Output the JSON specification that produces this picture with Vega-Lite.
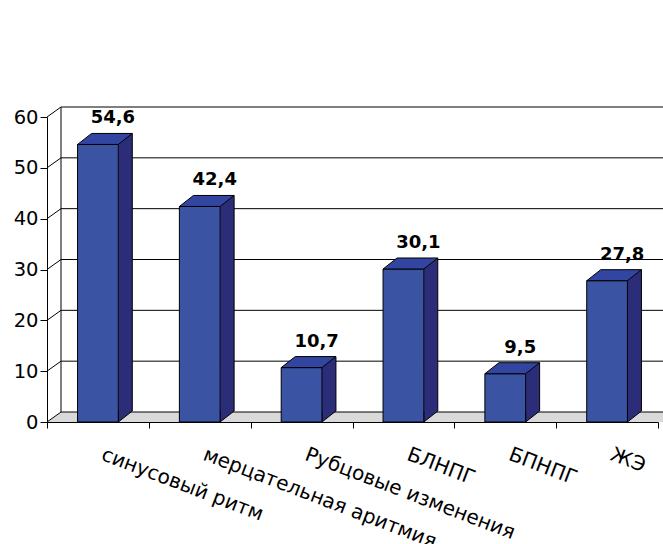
{
  "$schema": "https://vega.github.io/schema/vega-lite/v6.json",
  "width": 611,
  "height": 305,
  "autosize": {"type": "none"},
  "padding": {"left": 47, "top": 117, "right": 5, "bottom": 122},
  "config": {
    "font": "DejaVu Sans",
    "view": {"stroke": null},
    "locale": {
      "number": {"decimal": ",", "thousands": " ", "grouping": [3], "currency": ["", " ₽"]}
    }
  },
  "datasets": {
    "rows": [
      {"cat": "синусовый ритм", "v": 54.6},
      {"cat": "мерцательная аритмия", "v": 42.4},
      {"cat": "Рубцовые изменения", "v": 10.7},
      {"cat": "БЛНПГ", "v": 30.1},
      {"cat": "БПНПГ", "v": 9.5},
      {"cat": "ЖЭ", "v": 27.8}
    ],
    "grid": [
      {"t": 0}, {"t": 10}, {"t": 20}, {"t": 30}, {"t": 40}, {"t": 50}, {"t": 60}
    ],
    "one": [{}]
  },
  "resolve": {"scale": {"x": "independent"}},
  "layer": [
    {
      "layer": [
        {
          "data": {"name": "one"},
          "mark": {"type": "rect", "fill": "#d9d9d9", "xOffset": 14, "x2Offset": 14, "y2Offset": -10},
          "encoding": {
            "x": {
              "datum": 0, "type": "quantitative",
              "scale": {"domain": [0, 6], "nice": false},
              "axis": {
                "orient": "bottom", "values": [0, 1, 2, 3, 4, 5, 6], "labels": false,
                "domain": false, "grid": false, "ticks": true, "tickSize": 6,
                "tickColor": "#000", "tickWidth": 1, "title": null
              }
            },
            "x2": {"datum": 6},
            "y": {"datum": 0, "type": "quantitative", "scale": {"domain": [0, 60], "nice": false}},
            "y2": {"datum": 0}
          }
        },
        {
          "data": {"name": "one"},
          "mark": {"type": "point", "shape": "M0,0 L14,-10 L14,0 Z", "size": 4, "filled": true, "fill": "#d9d9d9", "opacity": 1, "strokeWidth": 0},
          "encoding": {
            "x": {"datum": 0, "type": "quantitative"},
            "y": {"datum": 0, "type": "quantitative"}
          }
        },
        {
          "data": {"name": "grid"},
          "mark": {"type": "rule", "color": "#000", "strokeWidth": 1, "xOffset": 14, "x2Offset": 14, "yOffset": -10},
          "encoding": {
            "x": {"datum": 0, "type": "quantitative"},
            "x2": {"datum": 6},
            "y": {"field": "t", "type": "quantitative"}
          }
        },
        {
          "data": {"name": "grid"},
          "mark": {"type": "rule", "color": "#000", "strokeWidth": 1, "x2Offset": 14, "y2Offset": -10},
          "encoding": {
            "x": {"datum": 0, "type": "quantitative"},
            "x2": {"datum": 0},
            "y": {"field": "t", "type": "quantitative"},
            "y2": {"field": "t"}
          }
        },
        {
          "data": {"name": "one"},
          "mark": {"type": "rule", "color": "#000", "strokeWidth": 1, "xOffset": 14, "yOffset": -10, "y2Offset": -10},
          "encoding": {
            "x": {"datum": 0, "type": "quantitative"},
            "y": {"datum": 0, "type": "quantitative"},
            "y2": {"datum": 60}
          }
        }
      ]
    },
    {
      "data": {"name": "rows"},
      "layer": [
        {
          "mark": {"type": "rule", "color": "#2b2d78", "strokeWidth": 14, "strokeCap": "butt", "xOffset": 7, "yOffset": -11, "y2Offset": -11},
          "encoding": {
            "x": {"field": "cat", "type": "nominal", "sort": null, "bandPosition": 1},
            "y": {"field": "v", "type": "quantitative"},
            "y2": {"datum": 0}
          }
        },
        {
          "mark": {"type": "point", "shape": "M14,-11 L0,0 L0,-11", "size": 4, "filled": true, "fill": "#2b2d78", "stroke": "#000", "strokeWidth": 1, "opacity": 1},
          "encoding": {
            "x": {"field": "cat", "type": "nominal", "sort": null, "bandPosition": 1},
            "y": {"datum": 0, "type": "quantitative"}
          }
        },
        {
          "mark": {"type": "rule", "color": "#000", "strokeWidth": 1, "xOffset": 14, "yOffset": -11, "y2Offset": -11},
          "encoding": {
            "x": {"field": "cat", "type": "nominal", "sort": null, "bandPosition": 1},
            "y": {"field": "v", "type": "quantitative"},
            "y2": {"datum": 0}
          }
        },
        {
          "mark": {"type": "bar", "fill": "#3a53a3", "stroke": "#000", "strokeWidth": 1},
          "encoding": {
            "x": {
              "field": "cat", "type": "nominal", "sort": null,
              "scale": {"type": "band", "paddingInner": 0.6, "paddingOuter": 0.3},
              "axis": {
                "orient": "bottom", "title": null, "domain": true, "domainColor": "#000", "domainWidth": 1,
                "ticks": false, "grid": false,
                "labelAngle": 21, "labelAlign": "left", "labelBaseline": "top",
                "labelOffset": 8, "labelPadding": 22, "labelFontSize": 20, "labelColor": "#000",
                "labelLimit": 0, "labelOverlap": false
              }
            },
            "y": {
              "field": "v", "type": "quantitative",
              "scale": {"domain": [0, 60], "nice": false},
              "axis": {
                "title": null, "grid": false, "values": [0, 10, 20, 30, 40, 50, 60],
                "domainColor": "#000", "domainWidth": 1, "tickColor": "#000", "tickSize": 7,
                "labelFontSize": 19.5, "labelColor": "#000", "labelPadding": 2
              }
            }
          }
        },
        {
          "mark": {"type": "point", "shape": "M0,0 L-40.7,0 L-26.7,-11 L14,-11 Z", "size": 4, "filled": true, "fill": "#3246a1", "stroke": "#000", "strokeWidth": 1, "opacity": 1},
          "encoding": {
            "x": {"field": "cat", "type": "nominal", "sort": null, "bandPosition": 1},
            "y": {"field": "v", "type": "quantitative"}
          }
        },
        {
          "mark": {"type": "text", "dx": 15, "dy": -21, "baseline": "alphabetic", "align": "center", "fontSize": 18, "fontWeight": "bold", "color": "#000"},
          "encoding": {
            "x": {"field": "cat", "type": "nominal", "sort": null},
            "y": {"field": "v", "type": "quantitative"},
            "text": {"field": "v", "type": "quantitative", "format": ".1f"}
          }
        }
      ]
    }
  ]
}
